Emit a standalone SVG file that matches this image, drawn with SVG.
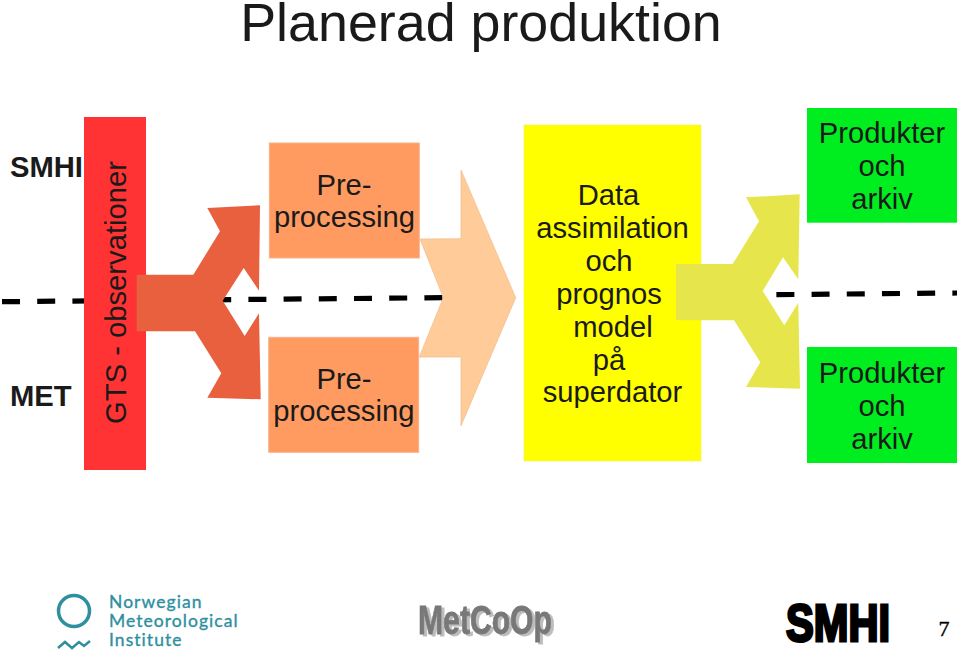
<svg xmlns="http://www.w3.org/2000/svg" width="960" height="652" viewBox="0 0 960 652">
<style>
text{font-family:"Liberation Sans",Arial,sans-serif;font-size:29.2px;fill:#1a1a1a;text-anchor:middle}
.b{font-weight:bold;text-anchor:start}
.pre{fill:#ff9a60;stroke:#f5b48c;stroke-width:1}
.grn{fill:#00ee20}
.logo{font-family:Lato,sans-serif;font-size:17.5px;fill:#2f8f9f;stroke:#2f8f9f;stroke-width:0.35;text-anchor:start;letter-spacing:1.05px}
</style>
<defs><filter id="sh" x="-10%" y="-10%" width="120%" height="130%"><feDropShadow dx="3" dy="2" stdDeviation="0.6" flood-color="#bdbdbd" flood-opacity="1"/></filter></defs>
<rect width="960" height="652" fill="#fff"/>
<text id="title" x="481" y="41" style="font-size:53.8px">Planerad produktion</text>
<g id="connectors"><line x1="2" y1="301.7" x2="957" y2="293" stroke="#000" stroke-width="5.2" stroke-dasharray="18 17.2"/></g>
<g id="label-smhi"><text class="b" x="10" y="177">SMHI</text></g>
<g id="label-met"><text class="b" x="10" y="406">MET</text></g>
<g id="gts"><rect x="84" y="117" width="62" height="353" fill="#ff3333"/><text transform="translate(125.500,292.500) rotate(-90)">GTS - observationer</text></g>
<g id="split-1"><polygon fill="#e9603f" points="136.7,274.7 193.3,274.7 220,231.3 207.3,208 260,205.3 259,290.7 243.7,268 222.7,300.7 244.7,336 259,313.3 260.7,399.3 207.3,397.7 221.3,373.3 195,331.3 136.7,331.3"/></g>
<g id="pre-1"><rect class="pre" x="269.3" y="143" width="150" height="115"/><text x="344" y="195">Pre-</text><text x="344.500" y="227">processing</text></g>
<g id="pre-2"><rect class="pre" x="268.700" y="337.300" width="150" height="115"/><text x="344" y="389">Pre-</text><text x="343.800" y="421">processing</text></g>
<g id="merge"><polygon fill="#ffcc99" stroke="#eebb88" stroke-width="0.7" points="420,239 461,238.700 461,170 515.700,297.700 461,425.700 461,357 419.300,357 443.300,297.700"/></g>
<g id="assimilation"><rect x="524" y="125" width="177" height="336" fill="#ffff00" stroke="#f0f060" stroke-width="0.7"/>
<text x="608.500" y="205">Data</text><text x="612.500" y="238">assimilation</text><text x="609" y="271">och</text><text x="609" y="304">prognos</text><text x="613" y="337">model</text><text x="609" y="370">på</text><text x="612.500" y="402">superdator</text></g>
<g id="split-2"><polygon fill="#e6e64c" points="676,264 732.700,264 759,221.300 746,197.300 799.700,194.300 798.300,279.300 783,257.300 762.700,291 784.300,325.300 798.300,302.700 800,388.700 746,387 760.300,362.300 734,320.300 676,320.300"/></g>
<g id="prod-1"><rect class="grn" x="807" y="108" width="150" height="114.700"/><text x="882" y="143">Produkter</text><text x="882" y="176">och</text><text x="882" y="209">arkiv</text></g>
<g id="prod-2"><rect class="grn" x="807" y="347" width="150" height="116"/><text x="882" y="383">Produkter</text><text x="882" y="416">och</text><text x="882" y="449">arkiv</text></g>
<g id="logo-met"><circle cx="74" cy="611" r="15.500" fill="none" stroke="#2f8f9f" stroke-width="3.500"/><path d="M58 648L65 642L72 648L79 642L84 646L90 641" fill="none" stroke="#2f8f9f" stroke-width="2.500"/>
<text class="logo" x="109" y="608">Norwegian</text><text class="logo" x="109" y="627">Meteorological</text><text class="logo" x="109" y="646">Institute</text></g>
<g id="logo-metcoop"><text x="418" y="634" textLength="134" lengthAdjust="spacingAndGlyphs" filter="url(#sh)" style="font-size:40px;font-weight:bold;fill:#787878;stroke:#787878;stroke-width:0.8;text-anchor:start">MetCoOp</text></g>
<g id="logo-smhi"><text x="786" y="640.500" textLength="104" lengthAdjust="spacingAndGlyphs" style="font-size:52px;font-weight:bold;fill:#000;stroke:#000;stroke-width:3;text-anchor:start">SMHI</text></g>
<text id="page" x="944" y="636" style="font-family:'Liberation Serif',serif;font-size:22px;fill:#000;stroke:#000;stroke-width:0.4">7</text>
</svg>
